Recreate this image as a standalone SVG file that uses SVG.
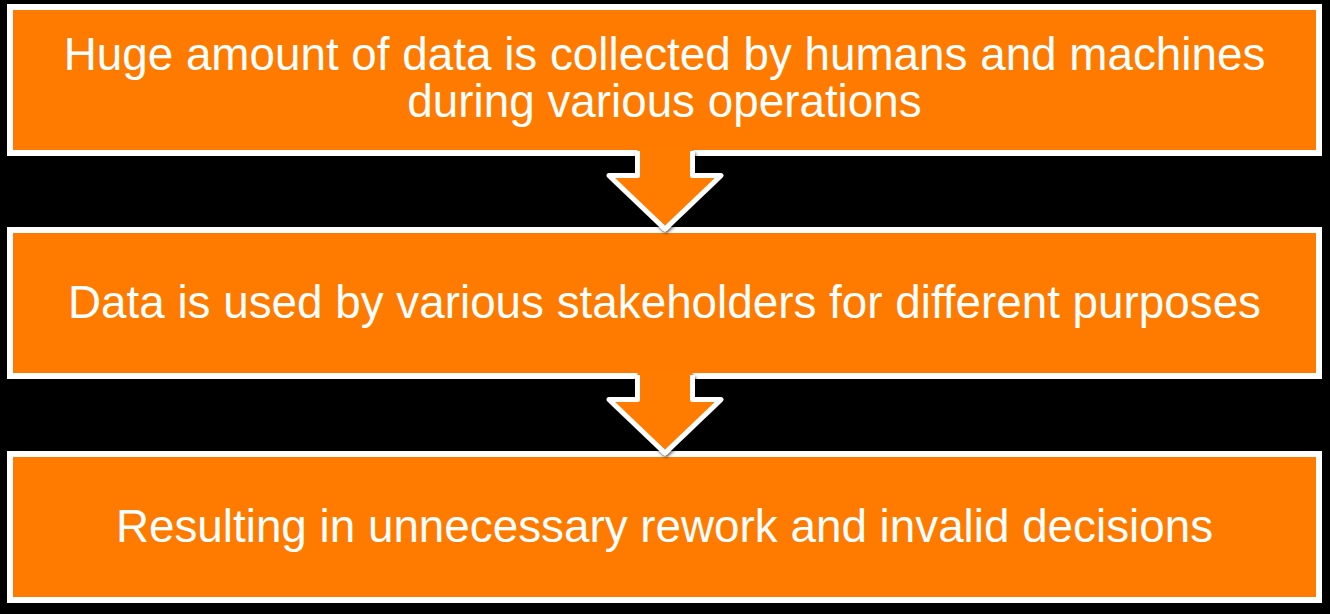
<svg xmlns="http://www.w3.org/2000/svg" width="1330" height="614" viewBox="0 0 1330 614">
  <defs>
    <style>
      .box { fill: #FF7B00; stroke: #FFFFFF; stroke-width: 6; }
      .afill { fill: #FF7B00; stroke: none; }
      .aline { fill: none; stroke: #FFFFFF; stroke-width: 5; stroke-linejoin: round; }
      .label { font-family: "Liberation Sans", Arial, sans-serif; font-size: 45.8px; fill: #FFFFFF; text-anchor: middle; }
    </style>
    <filter id="sh" x="-20%" y="-20%" width="140%" height="140%">
      <feDropShadow dx="1" dy="2" stdDeviation="1.5" flood-color="#000000" flood-opacity="0.6"/>
    </filter>
  </defs>
  <rect x="0" y="0" width="1330" height="614" fill="#000000"/>

  <g id="node1">
    <rect class="box" x="10" y="7" width="1309" height="146"/>
    <text class="label" x="664.5" y="70">Huge amount of data is collected by humans and machines</text>
    <text class="label" x="664.5" y="117">during various operations</text>
  </g>
  <g id="node2">
    <rect class="box" x="10" y="230" width="1309" height="146"/>
    <text class="label" x="664.5" y="318">Data is used by various stakeholders for different purposes</text>
  </g>
  <g id="node3">
    <rect class="box" x="10" y="454" width="1309" height="146"/>
    <text class="label" x="664.5" y="542">Resulting in unnecessary rework and invalid decisions</text>
  </g>

  <g id="connectors">
    <g id="arrow1" filter="url(#sh)">
      <polygon class="afill" points="637.5,148 692.5,148 692.5,175.5 721,175.5 665,229 609,175.5 637.5,175.5"/>
      <polyline class="aline" points="637.5,151 637.5,175.5 609,175.5 665,229 721,175.5 692.5,175.5 692.5,151"/>
    </g>
    <g id="arrow2" filter="url(#sh)">
      <polygon class="afill" points="637.5,372 692.5,372 692.5,399.5 721,399.5 665,453 609,399.5 637.5,399.5"/>
      <polyline class="aline" points="637.5,375 637.5,399.5 609,399.5 665,453 721,399.5 692.5,399.5 692.5,375"/>
    </g>
  </g>
</svg>
